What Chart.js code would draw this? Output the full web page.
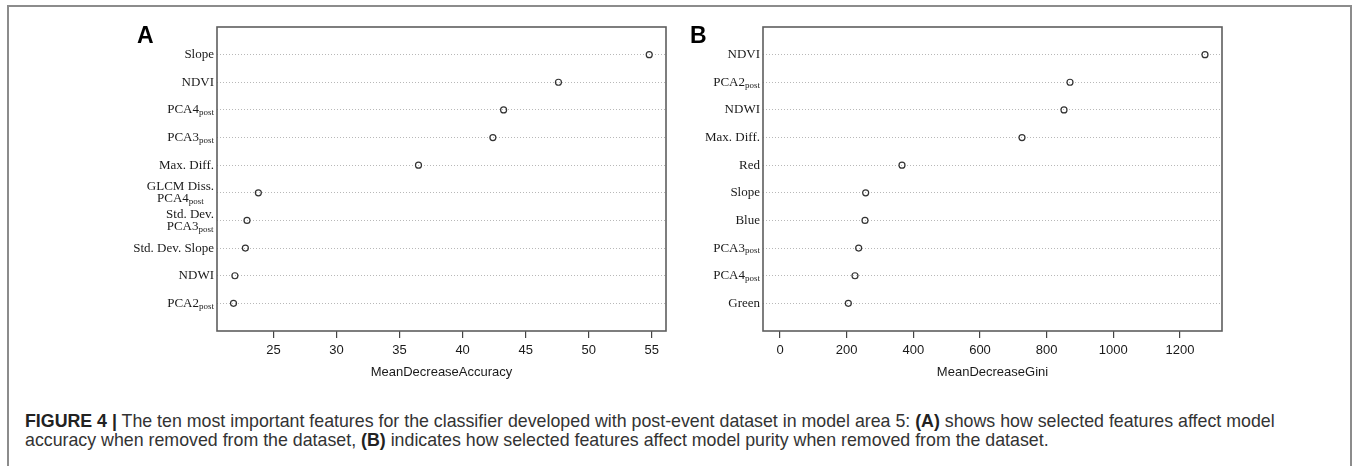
<!DOCTYPE html>
<html><head><meta charset="utf-8">
<script src="https://cdn.jsdelivr.net/npm/chart.js@4.4.1/dist/chart.umd.min.js"></script>
<style>
html,body{margin:0;padding:0;background:#fff;}
body{width:1354px;height:466px;position:relative;overflow:hidden;}
#frame{position:absolute;left:7px;top:5px;width:1345px;height:480px;border:2px solid #8c8c8c;border-bottom:none;box-sizing:border-box;}
.panel{position:absolute;top:0;height:400px;}
#wa{left:0;width:700px;}
#wb{left:700px;width:654px;}
.letter{position:absolute;font:bold 23px "Liberation Sans",Arial,sans-serif;color:#000;line-height:1;}
#caption{position:absolute;left:25px;top:412px;font:17.8px/19px "Liberation Sans",Arial,sans-serif;color:#333;white-space:nowrap;}
#caption b{color:#222;}
</style>
</head><body>
<div id="frame"></div>
<div class="panel" id="wa"><canvas id="ca"></canvas></div>
<div class="panel" id="wb"><canvas id="cb"></canvas></div>
<div class="letter" style="left:137px;top:24px;">A</div>
<div class="letter" style="left:690px;top:24px;">B</div>
<div id="caption"><b>FIGURE 4 |</b> The ten most important features for the classifier developed with post-event dataset in model area 5: <b>(A)</b> shows how selected features affect model<br>accuracy when removed from the dataset, <b>(B)</b> indicates how selected features affect model purity when removed from the dataset.</div>
<script>
// ---- data ----
const categoriesA = ['Slope','NDVI','PCA4_post','PCA3_post','Max. Diff.','GLCM Diss.\nPCA4_post','Std. Dev.\nPCA3_post','Std. Dev. Slope','NDWI','PCA2_post'];
const valuesA = [54.8, 47.6, 43.25, 42.4, 36.5, 23.8, 22.9, 22.77, 21.94, 21.83];
const ticksA = [25, 30, 35, 40, 45, 50, 55];
const rangeA = [20.52, 56.13];
const titleA = 'MeanDecreaseAccuracy';

const categoriesB = ['NDVI','PCA2_post','NDWI','Max. Diff.','Red','Slope','Blue','PCA3_post','PCA4_post','Green'];
const valuesB = [1275, 870, 852, 726, 366, 257, 255, 236, 225, 205];
const ticksB = [0, 200, 400, 600, 800, 1000, 1200];
const rangeB = [-51, 1326];
const titleB = 'MeanDecreaseGini';

// ---- drawing ----
const serif = '"Liberation Serif","Times New Roman",serif';
const sans = '"Liberation Sans",Arial,sans-serif';

function labelPlugin(categories){
  return {
    id:'dotLabels',
    afterDraw(chart){
      const ctx = chart.ctx, ys = chart.scales.y, area = chart.chartArea;
      ctx.save();
      ctx.strokeStyle = '#5e5e5e'; ctx.lineWidth = 1.6;
      ctx.strokeRect(area.left, area.top, area.right-area.left, area.bottom-area.top);
      ctx.fillStyle = '#1a1a1a'; ctx.textBaseline = 'middle';
      const mainF = '13px '+serif, subF = '9px '+serif;
      categories.forEach((lab, i) => {
        const yc = ys.getPixelForValue(i+1);
        const lines = lab.split('\n').map(l => { const p = l.split('_'); return {main:p[0], sub:p[1]||''}; });
        const widths = lines.map(l => { ctx.font = mainF; let w = ctx.measureText(l.main).width; ctx.font = subF; w += l.sub ? ctx.measureText(l.sub).width : 0; return w; });
        const bw = Math.max(...widths), right = area.left - 3, lh = 12.5;
        lines.forEach((l, k) => {
          const y = yc + (k - (lines.length-1)/2) * lh;
          let x = right - bw + (bw - widths[k]) / 2;
          ctx.textAlign = 'left';
          ctx.font = mainF; ctx.fillText(l.main, x, y);
          x += ctx.measureText(l.main).width;
          if (l.sub){ ctx.font = subF; ctx.fillText(l.sub, x, y + 3); }
        });
      });
      ctx.restore();
    }
  };
}

function makeChart(id, categories, values, ticks, range, title, padL, padR){
  const data = values.map((v, i) => ({x: v, y: i + 1}));
  new Chart(document.getElementById(id), {
    type: 'scatter',
    data: { datasets: [{ data, pointStyle: 'circle', pointRadius: 3, pointHoverRadius: 3,
      pointBorderWidth: 1.2, borderColor: '#333', backgroundColor: 'rgba(255,255,255,0)' }] },
    options: {
      responsive: true, maintainAspectRatio: false, animation: false,
      layout: { padding: { left: padL, right: padR, top: 27, bottom: 9 } },
      plugins: { legend: { display: false }, tooltip: { enabled: false } },
      scales: {
        x: {
          type: 'linear', min: range[0], max: range[1],
          afterBuildTicks(axis){ axis.ticks = ticks.map(v => ({value: v})); },
          afterFit(axis){ axis.height = 60; },
          grid: { drawOnChartArea: false, drawTicks: true, tickLength: 7, tickColor: '#444', lineWidth: 1.2 },
          border: { display: false },
          ticks: { color: '#1a1a1a', font: { family: sans, size: 13 }, padding: 5, maxRotation: 0, autoSkip: false,
                   callback: v => String(v) },
          title: { display: true, text: title, color: '#1a1a1a', font: { family: sans, size: 13 }, padding: { top: 0, bottom: 11 } }
        },
        y: {
          type: 'linear', min: 0, max: 11, reverse: true,
          afterBuildTicks(axis){ axis.ticks = categories.map((c, i) => ({value: i + 1})); },
          afterFit(axis){ axis.width = 0; },
          grid: { drawTicks: false, color: '#b8b8b8', lineWidth: 1 },
          border: { display: false, dash: [1, 2] },
          ticks: { display: false }
        }
      }
    },
    plugins: [labelPlugin(categories)]
  });
}

makeChart('ca', categoriesA, valuesA, ticksA, rangeA, titleA, 217, 34);
makeChart('cb', categoriesB, valuesB, ticksB, rangeB, titleB, 63, 132);
</script>
</body></html>
